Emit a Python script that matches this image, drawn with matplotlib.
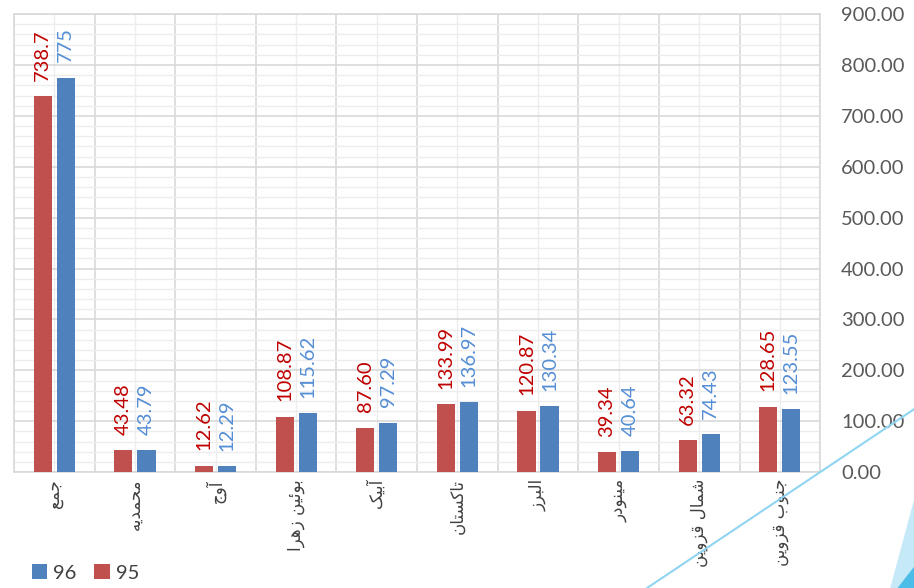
import matplotlib
matplotlib.use("Agg")
import matplotlib.pyplot as plt
import numpy as np
from matplotlib.lines import Line2D
from matplotlib.patches import Polygon
from matplotlib.ticker import MultipleLocator, FormatStrFormatter

categories = ["جمع", "محمدیه", "آوج", "بوئین زهرا", "آبیک",
              "تاکستان", "البرز", "مینودر", "شمال قزوین", "جنوب قزوین"]
vals_95 = [738.7, 43.48, 12.62, 108.87, 87.60, 133.99, 120.87, 39.34, 63.32, 128.65]
vals_96 = [775, 43.79, 12.29, 115.62, 97.29, 136.97, 130.34, 40.64, 74.43, 123.55]
labels_95 = ["738.7", "43.48", "12.62", "108.87", "87.60", "133.99", "120.87", "39.34", "63.32", "128.65"]
labels_96 = ["775", "43.79", "12.29", "115.62", "97.29", "136.97", "130.34", "40.64", "74.43", "123.55"]

# minimal arabic/persian shaping: (isolated, final, initial, medial)
FORMS = {
    "ا": ("\uFE8D", "\uFE8E", None, None),
    "آ": ("\uFE81", "\uFE82", None, None),
    "ب": ("\uFE8F", "\uFE90", "\uFE91", "\uFE92"),
    "ت": ("\uFE95", "\uFE96", "\uFE97", "\uFE98"),
    "ج": ("\uFE9D", "\uFE9E", "\uFE9F", "\uFEA0"),
    "ح": ("\uFEA1", "\uFEA2", "\uFEA3", "\uFEA4"),
    "د": ("\uFEA9", "\uFEAA", None, None),
    "ر": ("\uFEAD", "\uFEAE", None, None),
    "ز": ("\uFEAF", "\uFEB0", None, None),
    "س": ("\uFEB1", "\uFEB2", "\uFEB3", "\uFEB4"),
    "ش": ("\uFEB5", "\uFEB6", "\uFEB7", "\uFEB8"),
    "ع": ("\uFEC9", "\uFECA", "\uFECB", "\uFECC"),
    "ق": ("\uFED5", "\uFED6", "\uFED7", "\uFED8"),
    "ل": ("\uFEDD", "\uFEDE", "\uFEDF", "\uFEE0"),
    "م": ("\uFEE1", "\uFEE2", "\uFEE3", "\uFEE4"),
    "ن": ("\uFEE5", "\uFEE6", "\uFEE7", "\uFEE8"),
    "ه": ("\uFEE9", "\uFEEA", "\uFEEB", "\uFEEC"),
    "و": ("\uFEED", "\uFEEE", None, None),
    "ئ": ("\uFE89", "\uFE8A", "\uFE8B", "\uFE8C"),
    "ی": ("\uFBFC", "\uFBFD", "\uFBFE", "\uFBFF"),
    "ک": ("\uFB8E", "\uFB8F", "\uFB90", "\uFB91"),
}


def shape(text):
    out = []
    for i, c in enumerate(text):
        if c not in FORMS:
            out.append(c)
            continue
        prev = text[i-1] if i > 0 else " "
        nxt = text[i+1] if i+1 < len(text) else " "
        pj = prev in FORMS and FORMS[prev][2] is not None
        nj = FORMS[c][2] is not None and nxt in FORMS
        f = FORMS[c]
        if pj and nj:
            out.append(f[3])
        elif pj:
            out.append(f[1])
        elif nj:
            out.append(f[2])
        else:
            out.append(f[0])
    return "".join(out)[::-1]


plt.rcParams['font.family'] = ['Lato', 'DejaVu Sans']

fig = plt.figure(figsize=(9.14, 5.88), dpi=100)
ax = fig.add_axes([0.0153, 0.197, 0.882, 0.779])

x = np.arange(len(categories))
w = 0.225
red = "#C0504D"
blue = "#4F81BD"
b95 = ax.bar(x - 0.143, vals_95, w, color=red, label="95", zorder=3)
b96 = ax.bar(x + 0.143, vals_96, w, color=blue, label="96", zorder=3)

for xi, v, t in zip(x - 0.143, vals_95, labels_95):
    ax.annotate(t, (xi, v), xytext=(0, 11), textcoords="offset points",
                rotation=90, ha="center", va="bottom", color="#C00000",
                fontsize=14.5, zorder=4)
for xi, v, t in zip(x + 0.143, vals_96, labels_96):
    ax.annotate(t, (xi, v), xytext=(0, 11), textcoords="offset points",
                rotation=90, ha="center", va="bottom", color="#558ED5",
                fontsize=14.5, zorder=4)

ax.set_xlim(-0.5, len(categories) - 0.5)
ax.set_ylim(0, 900)
ax.yaxis.set_major_locator(MultipleLocator(100))
ax.yaxis.set_minor_locator(MultipleLocator(20))
ax.yaxis.set_major_formatter(FormatStrFormatter("%.2f"))
ax.yaxis.tick_right()
ax.set_xticks(x)
ax.set_xticks(np.arange(-0.5, len(categories)), minor=True)
ax.set_xticklabels([shape(c) for c in categories], rotation=90,
                   family="DejaVu Sans", fontsize=12, color="#404040")

ax.grid(which="major", axis="y", color="#D9D9D9", lw=1.2, zorder=0)
ax.grid(which="minor", axis="y", color="#EDEDED", lw=1, zorder=0)
ax.grid(which="minor", axis="x", color="#D9D9D9", lw=1.2, zorder=0)
ax.grid(which="major", axis="x", color="#EDEDED", lw=1, zorder=0)
ax.tick_params(which="both", length=0)
ax.tick_params(axis="y", labelsize=14.5, labelcolor="#595959", pad=15)
ax.tick_params(axis="x", pad=5)
for s in ax.spines.values():
    s.set_color("#D9D9D9")
    s.set_linewidth(1.2)

fig.legend(handles=[b96, b95], labels=["96", "95"], loc="lower left",
           bbox_to_anchor=(0.015, -0.02), ncol=2, frameon=False, fontsize=14.5,
           handlelength=0.75, handleheight=0.75, handletextpad=0.3,
           columnspacing=0.9, labelcolor="#404040")

# decorative shapes in the corner
fig.add_artist(Line2D([0.708, 1.0], [0.0, 0.304], color="#8FD5F2", lw=1.5))
fig.add_artist(Polygon([[0.974, 0.0], [1.0, 0.15], [1.0, 0.0]],
                       closed=True, color="#C6E9F8", lw=0))
fig.add_artist(Polygon([[0.982, 0.0], [1.0, 0.036], [1.0, 0.0]],
                       closed=True, color="#4BBDE8", lw=0))

fig.savefig("out.png", dpi=100)
plt.close("all")
